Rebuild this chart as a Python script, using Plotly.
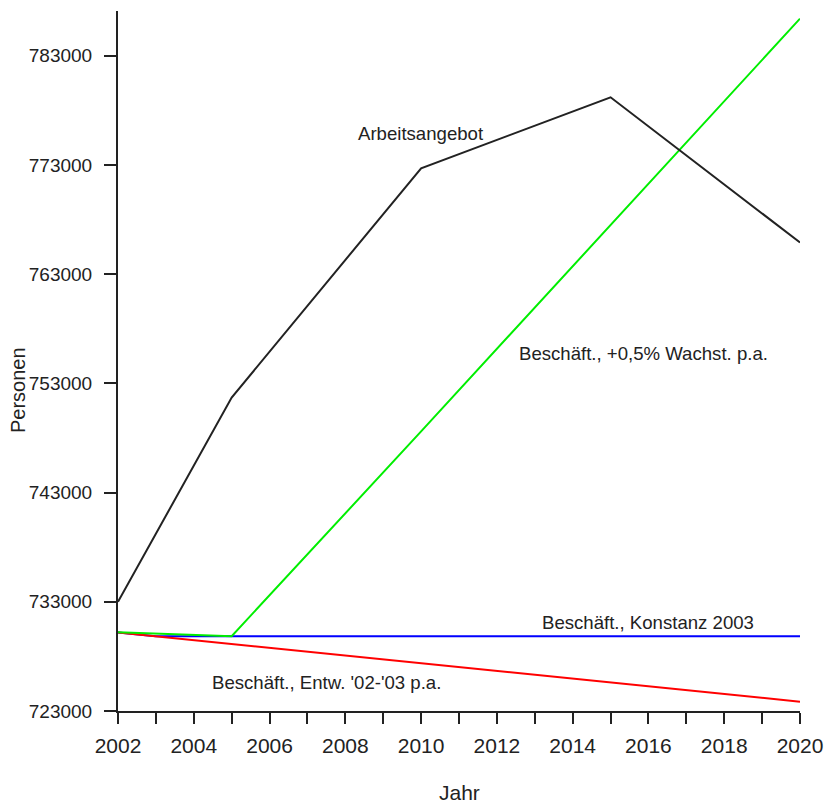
import plotly.graph_objects as go

# ---- data ----
years_angebot = [2002, 2005, 2010, 2015, 2020]
arbeitsangebot = [733000, 751700, 772700, 779200, 765900]

years_konstanz = [2002, 2003, 2020]
konstanz_2003 = [730200, 729850, 729850]

years_entw = [2002, 2020]
entw_02_03 = [730200, 723850]

years_wachst = [2002, 2005, 2010, 2015, 2020]
wachst_05 = [730200, 729850, 748600, 767500, 786400]

x_ticks = list(range(2002, 2021))
x_ticktext = [str(y) if y % 2 == 0 else "" for y in x_ticks]
y_ticks = [723000, 733000, 743000, 753000, 763000, 773000, 783000]

FONT = "Liberation Sans, Arial, sans-serif"
TXT = "#222222"

fig = go.Figure()
fig.add_trace(go.Scatter(x=years_konstanz, y=konstanz_2003, mode="lines",
                         line=dict(color="#0000ff", width=2), name="Beschäft., Konstanz 2003"))
fig.add_trace(go.Scatter(x=years_entw, y=entw_02_03, mode="lines",
                         line=dict(color="#ff0000", width=2), name="Beschäft., Entw. '02-'03 p.a."))
fig.add_trace(go.Scatter(x=years_wachst, y=wachst_05, mode="lines",
                         line=dict(color="#00ee00", width=2), name="Beschäft., +0,5% Wachst. p.a."))
fig.add_trace(go.Scatter(x=years_angebot, y=arbeitsangebot, mode="lines",
                         line=dict(color="#222222", width=2), name="Arbeitsangebot"))

labels = [
    ("Arbeitsangebot", 2010.0, 775900),
    ("Beschäft., +0,5% Wachst. p.a.", 2015.86, 755780),
    ("Beschäft., Konstanz 2003", 2016.0, 731060),
    ("Beschäft., Entw. '02-'03 p.a.", 2007.49, 725650),
]
for text, lx, ly in labels:
    fig.add_annotation(x=lx, y=ly, xref="x", yref="y", text=text, showarrow=False,
                       xanchor="center", yanchor="middle",
                       font=dict(family=FONT, size=18.6, color=TXT))

fig.add_annotation(x=-0.1466, y=0.4586, xref="paper", yref="paper", text="Personen",
                   showarrow=False, textangle=-90, xanchor="center", yanchor="middle",
                   font=dict(family=FONT, size=20, color=TXT))
fig.add_annotation(x=0.5, y=-0.117, xref="paper", yref="paper", text="Jahr",
                   showarrow=False, xanchor="center", yanchor="middle",
                   font=dict(family=FONT, size=21, color=TXT))

fig.update_layout(
    width=826, height=805,
    margin=dict(l=118, r=26, t=11, b=94, pad=0, autoexpand=False),
    paper_bgcolor="white", plot_bgcolor="white",
    showlegend=False,
    font=dict(family=FONT, color=TXT),
)
fig.update_xaxes(range=[2002, 2020], tickvals=x_ticks, ticktext=x_ticktext, automargin=False,
                 ticklabeloverflow="allow",
                 showgrid=False, zeroline=False, showline=True, linecolor="#222222", linewidth=2,
                 ticks="outside", ticklen=11, tickwidth=2, tickcolor="#222222",
                 tickfont=dict(family=FONT, size=21, color=TXT), ticklabelstandoff=4)
fig.update_yaxes(range=[723000, 787100], tickvals=y_ticks, automargin=False,
                 ticktext=[str(v) for v in y_ticks],
                 showgrid=False, zeroline=False, showline=True, linecolor="#222222", linewidth=2,
                 ticks="outside", ticklen=12, tickwidth=2, tickcolor="#222222",
                 tickfont=dict(family=FONT, size=19, color=TXT), ticklabelstandoff=8)

fig.write_html("out.html")
